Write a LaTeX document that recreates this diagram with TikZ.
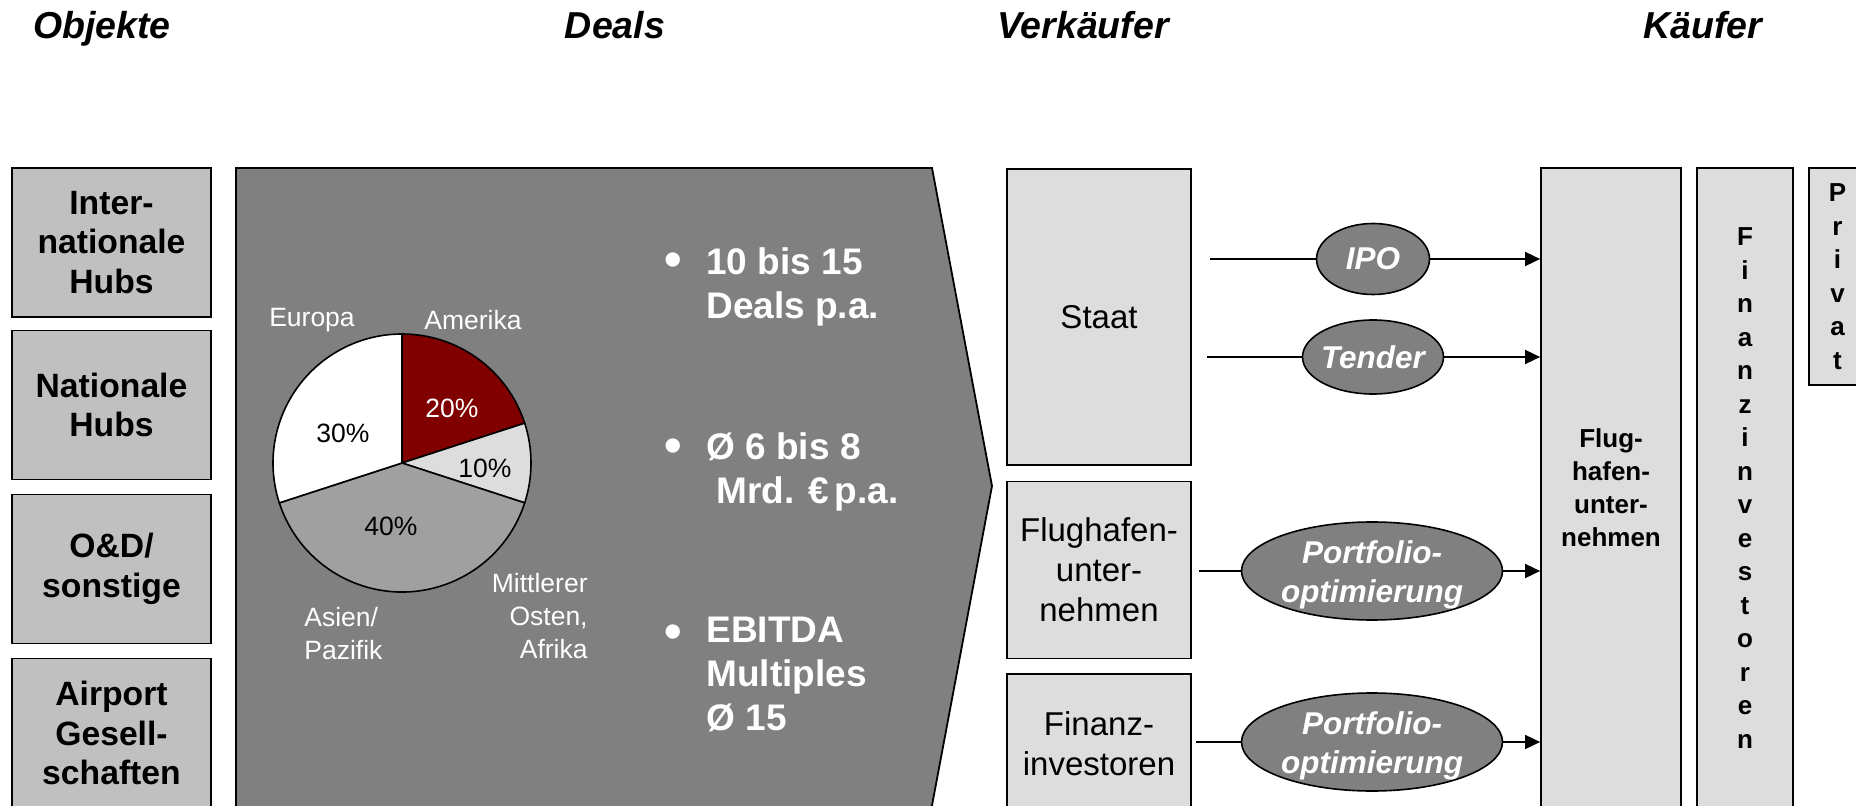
\documentclass[tikz,border=0pt]{standalone}
\usepackage{fontspec}
\setmainfont{Liberation Sans}
\usetikzlibrary{shapes.geometric,arrows.meta}
\definecolor{objgray}{RGB}{192,192,192}
\definecolor{dealgray}{RGB}{128,128,128}
\definecolor{lightbox}{RGB}{221,221,221}
\definecolor{amred}{RGB}{128,0,0}
\definecolor{asgray}{RGB}{160,160,160}
\begin{document}
\begin{tikzpicture}[x=0.5pt,y=-0.5pt,
  ttl/.style={font=\fontsize{18.75}{22}\selectfont\bfseries\itshape, anchor=base, inner sep=0},
  objbox/.style={draw=black, line width=0.9pt, fill=objgray, minimum width=99.5pt, minimum height=74.5pt, inner sep=0, align=center, font=\fontsize{16.85}{19.85}\selectfont\bfseries},
  verbox/.style={draw=black, line width=0.9pt, fill=lightbox, minimum width=92pt, inner sep=0, align=center, font=\fontsize{16.5}{20}\selectfont},
  kbox/.style={draw=black, line width=0.9pt, fill=lightbox, inner sep=0, align=center, font=\fontsize{13}{16.5}\selectfont\bfseries},
  ell/.style={ellipse, draw=black, line width=0.8pt, fill=dealgray, inner sep=0},
  elltext/.style={text=white, align=center, inner sep=0, font=\fontsize{15.75}{19.5}\selectfont\bfseries\itshape},
  pietxt/.style={inner sep=0, font=\fontsize{13.25}{16.5}\selectfont},
  bultext/.style={text=white, anchor=north west, align=left, inner sep=0, font=\fontsize{18.5}{22}\selectfont\bfseries},
  bul/.style={text=white, anchor=base, inner sep=0, font=\fontsize{25}{28}\selectfont\bfseries},
  arr/.style={-{Triangle[length=7.5pt,width=7pt]}, line width=0.9pt},
  ln/.style={line width=0.9pt}
]
\useasboundingbox (0,0) rectangle (1856,806);
\clip (0,0) rectangle (1856,806);

% titles
\node[ttl] (tobj) at (102,39) {Objekte};
\node[ttl] (tdeal) at (615,39) {Deals};
\node[ttl] (tverk) at (1083,39) {Verkäufer};
\node[ttl] (tkauf) at (1703,39) {Käufer};

% Objekte boxes
\node[objbox] (o1) at (111.5,242.5) {Inter-\\nationale\\Hubs};
\node[objbox] (o2) at (111.5,405) {Nationale\\Hubs};
\node[objbox] (o3) at (111.5,569) {O\&D/\\sonstige};
\node[objbox] (o4) at (111.5,733) {Airport\\Gesell-\\schaften};

% Deals pentagon
\filldraw[fill=dealgray, draw=black, line width=0.9pt]
  (236,168) -- (932,168) -- (992,486) -- (930,816) -- (236,816) -- cycle;

% pie chart
\coordinate (pc) at (402,463);
\filldraw[fill=amred, draw=black, line width=0.8pt] (pc) -- ++(90:64.5pt) arc[start angle=90, end angle=18, radius=64.5pt] -- cycle;
\filldraw[fill=lightbox, draw=black, line width=0.8pt] (pc) -- ++(18:64.5pt) arc[start angle=18, end angle=-18, radius=64.5pt] -- cycle;
\filldraw[fill=asgray, draw=black, line width=0.8pt] (pc) -- ++(-18:64.5pt) arc[start angle=-18, end angle=-162, radius=64.5pt] -- cycle;
\filldraw[fill=white, draw=black, line width=0.8pt] (pc) -- ++(-162:64.5pt) arc[start angle=198, end angle=90, radius=64.5pt] -- cycle;

\node[pietxt, text=white] (p20) at (452,408) {20\%};
\node[pietxt] (p10) at (485,468) {10\%};
\node[pietxt] (p40) at (391,526) {40\%};
\node[pietxt] (p30) at (343,433) {30\%};
\node[pietxt, text=white] (leu) at (312,320) {Europa};
\node[pietxt, text=white] (lam) at (473,320) {Amerika};
\node[pietxt, text=white, anchor=east, align=right] (lme) at (588,616) {Mittlerer\\Osten,\\Afrika};
\node[pietxt, text=white, anchor=west, align=left] (las) at (304,634) {Asien/\\Pazifik};

% bullets
\node[bul] (b1) at (673,277) {•};
\node[bul] (b2) at (673,463) {•};
\node[bul] (b3) at (673,648) {•};
\node[bultext] (t1) at (706,247) {10 bis 15\\Deals p.a.};
\node[bultext] (t2) at (706,432) {Ø 6 bis 8\\\hspace*{5pt}Mrd. €\,p.a.};
\node[bultext] (t3) at (706,617) {EBITDA\\Multiples\\Ø 15};

% Verkaeufer boxes
\node[verbox, minimum height=148pt] (vst) at (1099,317) {Staat};
\node[verbox, minimum height=88.5pt] (vfl) at (1099,570) {Flughafen-\\unter-\\nehmen};
\node[verbox, minimum height=70pt] (vfi) at (1099,744) {Finanz-\\investoren};

% Kaeufer boxes
\node[kbox, minimum width=70pt, minimum height=320pt] (kfl) at (1611,488) {Flug-\\hafen-\\unter-\\nehmen};
\node[kbox, minimum width=48pt, minimum height=320pt, font=\fontsize{13}{16.75}\selectfont\bfseries] (kfi) at (1745,488) {F\\i\\n\\a\\n\\z\\i\\n\\v\\e\\s\\t\\o\\r\\e\\n};
\node[kbox, minimum width=28.5pt, minimum height=108.5pt, font=\fontsize{13}{16.75}\selectfont\bfseries] (kpr) at (1837.5,276.5) {P\\r\\i\\v\\a\\t};

% ellipses
\node[ell, minimum width=56.5pt, minimum height=35.5pt] (ipo) at (1373,259) {};
\node[ell, minimum width=70.5pt, minimum height=37pt] (ten) at (1373,357) {};
\node[ell, minimum width=130.5pt, minimum height=49pt] (pf1) at (1372,571) {};
\node[ell, minimum width=130.5pt, minimum height=49pt] (pf2) at (1372,742) {};
\node[elltext] at (ipo) {IPO};
\node[elltext] at (ten) {Tender};
\node[elltext] at (1372,575) {Portfolio-\\optimierung};
\node[elltext] at (1372,746) {Portfolio-\\optimierung};

% connectors
\coordinate (s1) at (1210,259);
\coordinate (s2) at (1207,357);
\coordinate (s3) at (1199,571);
\coordinate (s4) at (1196,742);
\draw[ln] (s1) -- (ipo.west);
\draw[ln] (s2) -- (ten.west);
\draw[ln] (s3) -- (pf1.west);
\draw[ln] (s4) -- (pf2.west);
\draw[arr] (ipo.east) -- (ipo.east -| kfl.west);
\draw[arr] (ten.east) -- (ten.east -| kfl.west);
\draw[arr] (pf1.east) -- (pf1.east -| kfl.west);
\draw[arr] (pf2.east) -- (pf2.east -| kfl.west);
\end{tikzpicture}
\end{document}
